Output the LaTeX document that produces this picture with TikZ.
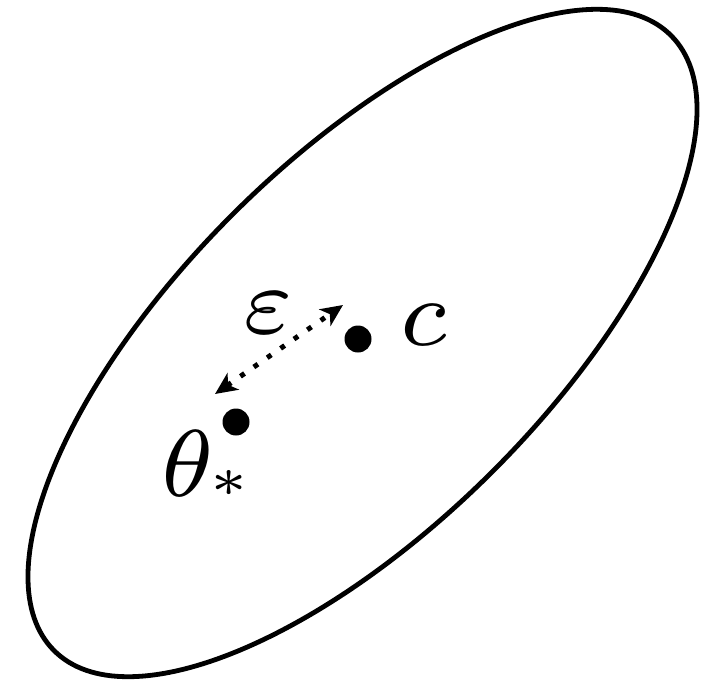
\documentclass[tikz,border=0pt]{standalone}
\usepackage{graphicx}
\usetikzlibrary{arrows.meta}
\newcommand{\mybigmath}[1]{\scalebox{6.786}{\scriptsize$#1$}}
\newcommand{\mysmallast}{\scalebox{5.6}{\scriptsize$\scriptscriptstyle\ast$}}
\tikzset{
  dotstyle/.style={circle,fill=black,inner sep=0pt,minimum size=13.5pt},
  bigmath/.style={inner sep=0pt,anchor=base},
  outline/.style={line width=2.4pt},
  dotline/.style={line width=2.5pt,dash pattern=on 2.5pt off 5.65pt,
    {Stealth[length=11pt,width=10pt,inset=3pt]}-{Stealth[length=11pt,width=10pt,inset=3pt]}}
}
\begin{document}
\begin{tikzpicture}[x=0.5pt,y=-0.5pt]
\useasboundingbox (0,0) rectangle (716,680);
\coordinate (E) at (362.5,343);
\draw[outline] (E) circle[x radius=217.8pt, y radius=91.4pt, rotate=44.9];
\node[dotstyle] (cdot) at (358,339) {};
\node[dotstyle] (tdot) at (236,422) {};
\node[bigmath] (clab) at (424,345) {\mybigmath{c}};
\node[bigmath] (elab) at (268.5,333) {\mybigmath{\varepsilon}};
\node[bigmath] (tlab) at (205,496) {\mybigmath{\theta}\kern-3.5pt\mysmallast};
\coordinate (a1) at (215,394);
\coordinate (a2) at (343,305);
\draw[dotline] (a1) -- (a2);
\end{tikzpicture}
\end{document}
